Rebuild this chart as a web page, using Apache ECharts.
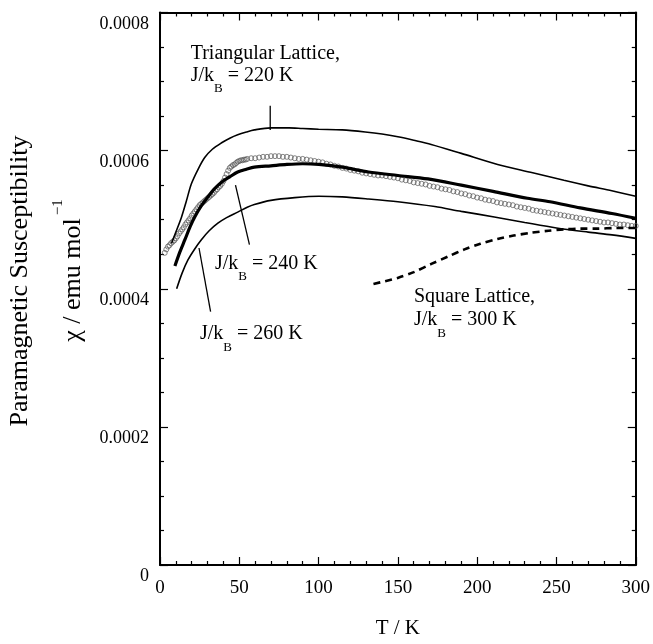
<!DOCTYPE html>
<html><head><meta charset="utf-8">
<script src="https://cdn.jsdelivr.net/npm/echarts/dist/echarts.min.js"></script>
<style>html,body{margin:0;padding:0;background:#fff}#c{width:653px;height:644px}</style>
</head><body><div id="c"></div>
<script>
const FONT = '"Liberation Serif","Times New Roman",serif';

// x ticks / y ticks
const xTicks = [0, 50, 100, 150, 200, 250, 300];
const yTicks = [0, 0.0002, 0.0004, 0.0006, 0.0008];

// Triangular lattice, J/kB = 220 K
const T220 = [7.3, 10, 13.6, 16.5, 19.8, 24, 28.2, 33, 38.6, 44, 49, 54.5, 59.5, 69.9, 81.4, 90, 100, 115, 129.4, 140, 150, 160, 171, 190, 212.9, 235, 254.7, 270, 284.9, 300];
const chi220 = [0.000466, 0.000482, 0.000504, 0.000526, 0.000552, 0.000573, 0.000590, 0.000602, 0.000611, 0.000618, 0.000623, 0.000627, 0.000630, 0.000633, 0.000633, 0.000632, 0.000631, 0.000630, 0.000627, 0.000624, 0.000620, 0.000615, 0.000609, 0.000596, 0.000580, 0.000568, 0.000557, 0.000549, 0.000542, 0.000534];

// Triangular lattice, J/kB = 240 K (thick)
const T240 = [9.4, 12.5, 15.7, 19, 21.9, 26, 30.2, 34, 38.6, 44, 49, 54.5, 59.5, 69.9, 80, 90, 100.2, 115, 131.5, 150, 169, 190, 210, 231.7, 246, 265, 285, 300];
const chi240 = [0.000433, 0.000453, 0.000471, 0.000490, 0.000504, 0.000520, 0.000533, 0.000544, 0.000554, 0.000562, 0.000569, 0.000573, 0.000576, 0.000578, 0.000580, 0.000581, 0.000580, 0.000576, 0.000569, 0.000564, 0.000559, 0.000550, 0.000541, 0.000531, 0.000526, 0.000517, 0.000509, 0.000502];

// Triangular lattice, J/kB = 260 K
const T260 = [10.5, 14, 17.7, 22, 26.1, 31, 36.5, 42, 49, 55, 59.5, 69.9, 85, 100.2, 115, 131.5, 150, 173.3, 190, 210.8, 230, 250, 270, 285, 300];
const chi260 = [0.000400, 0.000423, 0.000442, 0.000458, 0.000471, 0.000484, 0.000495, 0.000503, 0.000511, 0.000518, 0.000522, 0.000528, 0.000532, 0.000534, 0.000533, 0.000530, 0.000526, 0.000519, 0.000512, 0.000504, 0.000496, 0.000488, 0.000482, 0.000478, 0.000473];

// Square lattice, J/kB = 300 K (dashed)
const Tsq = [134.6, 142, 150.3, 160, 171.1, 182, 192, 202, 212.9, 223, 233.8, 245, 254.7, 265, 275.5, 288, 300];
const chisq = [0.000407, 0.000411, 0.000416, 0.000424, 0.000436, 0.000447, 0.000457, 0.000465, 0.000472, 0.000477, 0.000481, 0.000484, 0.000486, 0.000487, 0.000487, 0.000488, 0.000488];

// Experimental data (open circles)
const Texp = [3,4,5,6,7,8,9,10,11,12,13,14,15,16,17,18,19,20,21,22,23,24,25,26,27,28,29,30,31,32,33,34,35,36,37,38,39,40,41,42,43,44,45,46,47,48,49,50,51,52,53,54,55,
 57.5,60,62.5,65,67.5,70,72.5,75,77.5,80,82.5,85,87.5,90,92.5,95,97.5,100,102.5,105,107.5,110,112.5,115,117.5,120,122.5,125,127.5,130,132.5,135,137.5,140,142.5,145,147.5,150,152.5,155,157.5,160,162.5,165,167.5,170,172.5,175,177.5,180,182.5,185,187.5,190,192.5,195,197.5,200,202.5,205,207.5,210,212.5,215,217.5,220,222.5,225,227.5,230,232.5,235,237.5,240,242.5,245,247.5,250,252.5,255,257.5,260,262.5,265,267.5,270,272.5,275,277.5,280,282.5,285,287.5,290,292.5,295,297.5,300];
const chiExp = [0.000452,0.000457,0.000461,0.000463,0.000466,0.000468,0.000470,0.000473,0.000476,0.000480,0.000483,0.000486,0.000489,0.000493,0.000496,0.000499,0.000502,0.000506,0.000509,0.000512,0.000515,0.000518,0.000521,0.000523,0.000525,0.000527,0.000529,0.000531,0.000533,0.000535,0.000537,0.000539,0.000542,0.000544,0.000547,0.000549,0.000552,0.000556,0.000561,0.000566,0.000571,0.000575,0.000577,0.000579,0.000580,0.000582,0.000584,0.000585,0.000586,0.000586,0.000587,0.000587,0.000588,
 0.000589,0.000589,0.000590,0.000591,0.000591,0.000592,0.000592,0.000592,0.000591,0.000591,0.000590,0.000589,0.000588,0.000588,0.000587,0.000586,0.000585,0.000584,0.000583,0.000581,0.000580,0.000578,0.000577,0.000575,0.000574,0.000572,0.000571,0.000570,0.000568,0.000567,0.000566,0.000565,0.000564,0.000564,0.000563,0.000562,0.000561,0.000560,0.000558,0.000557,0.000556,0.000554,0.000553,0.000552,0.000551,0.000549,0.000548,0.000547,0.000545,0.000544,0.000543,0.000541,0.000540,0.000538,0.000537,0.000535,0.000534,0.000532,0.000531,0.000529,0.000528,0.000527,0.000525,0.000524,0.000523,0.000522,0.000521,0.000519,0.000518,0.000517,0.000516,0.000514,0.000513,0.000512,0.000511,0.000510,0.000509,0.000508,0.000507,0.000506,0.000505,0.000504,0.000503,0.000502,0.000501,0.000500,0.000499,0.000498,0.000497,0.000496,0.000496,0.000495,0.000494,0.000493,0.000493,0.000492,0.000491,0.000491];

// Leader lines for annotations
const lead220T = [69.5, 69.5], lead220Chi = [0.000665, 0.000630];
const lead240T = [47.6, 56.4], lead240Chi = [0.000550, 0.000464];
const lead260T = [24.6, 31.9], lead260Chi = [0.000459, 0.000367];

const zip = (a, b) => a.map((v, i) => [v, b[i]]);

const ctx = document.createElement('canvas').getContext('2d');
function tw(t, size) { ctx.font = size + 'px ' + FONT; return ctx.measureText(t).width; }
function txt(x, y, text, size, extra) {
  return Object.assign({ type: 'text', x: x, y: y, z: 100, style: { text: text, font: size + 'px ' + FONT, fill: '#000', align: 'left', verticalAlign: 'middle', textAlign: 'left', textVerticalAlign: 'middle' } }, extra || {});
}
function jLabel(x, base, value) {
  const w1 = tw('J/k', 20), wB = tw('B', 13);
  return [
    txt(x, base - 6.5, 'J/k', 20),
    txt(x + w1, base + 7, 'B', 13),
    txt(x + w1 + wB, base - 6.5, ' = ' + value + ' K', 20)
  ];
}

const chiMain = 'χ / emu mol';
const wChi = tw(chiMain, 26);

const graphics = [].concat(
  [txt(190.7, 60 - 6.5, 'Triangular Lattice,', 20)],
  jLabel(190.7, 82, 220),
  jLabel(215, 270, 240),
  jLabel(200, 340.7, 260),
  [txt(414, 303.3 - 6.5, 'Square Lattice,', 20)],
  jLabel(414, 326.7, 300),
  [{
    type: 'group', x: 20, y: 281, rotation: Math.PI / 2,
    children: [{ type: 'text', x: 0, y: 0, style: { text: 'Paramagnetic Susceptibility', font: '26px ' + FONT, fill: '#000', align: 'center', verticalAlign: 'middle', textAlign: 'center', textVerticalAlign: 'middle' } }]
  }, {
    type: 'group', x: 73.5, y: 280, rotation: Math.PI / 2,
    children: [
      { type: 'text', x: -wChi / 2, y: 0, style: { text: chiMain, font: '26px ' + FONT, fill: '#000', align: 'left', verticalAlign: 'middle', textAlign: 'left', textVerticalAlign: 'middle' } },
      { type: 'text', x: wChi / 2 + 3, y: -15, style: { text: '−1', font: '15px ' + FONT, fill: '#000', align: 'left', verticalAlign: 'middle', textAlign: 'left', textVerticalAlign: 'middle' } }
    ]
  }]
);

const axisLineStyle = { color: '#000', width: 2 };
const tickStyle = { color: '#000', width: 1.2 };
function xAx(pos, showLabel) {
  return {
    type: 'value', position: pos, min: xTicks[0], max: xTicks[xTicks.length - 1], interval: xTicks[1] - xTicks[0],
    axisLine: { show: true, onZero: false, lineStyle: axisLineStyle },
    axisTick: { show: true, inside: true, length: 8, lineStyle: tickStyle },
    minorTick: { show: true, splitNumber: 5, length: 4, lineStyle: tickStyle },
    splitLine: { show: false }, minorSplitLine: { show: false },
    axisLabel: { show: showLabel, fontFamily: FONT, fontSize: 19, color: '#000', margin: 14 },
    name: showLabel ? 'T / K' : '', nameLocation: 'middle', nameGap: 53,
    nameTextStyle: { fontFamily: FONT, fontSize: 21, color: '#000' }
  };
}
function yAx(pos, showLabel) {
  return {
    type: 'value', position: pos, min: yTicks[0], max: yTicks[yTicks.length - 1], interval: yTicks[1] - yTicks[0],
    axisLine: { show: true, onZero: false, lineStyle: axisLineStyle },
    axisTick: { show: true, inside: true, length: 8, lineStyle: tickStyle },
    minorTick: { show: true, splitNumber: 4, length: 4, lineStyle: tickStyle },
    splitLine: { show: false }, minorSplitLine: { show: false },
    axisLabel: { show: showLabel, fontFamily: FONT, fontSize: 18, color: '#000', margin: 11, verticalAlign: 'top', lineHeight: 23,
      formatter: v => (Math.abs(v) < 1e-12 ? '0' : v.toFixed(4)) }
  };
}

function lineSeries(T, chi, width, extra) {
  return Object.assign({
    type: 'line', data: zip(T, chi), showSymbol: false, symbol: 'none', smooth: 0.3, z: 3,
    lineStyle: { color: '#000', width: width }, silent: true
  }, extra || {});
}
function leader(T, chi) {
  return { type: 'line', data: zip(T, chi), showSymbol: false, symbol: 'none', z: 3, silent: true, lineStyle: { color: '#000', width: 1.3 } };
}

const chart = echarts.init(document.getElementById('c'), null, { renderer: 'canvas' });
chart.setOption({
  animation: false,
  backgroundColor: '#fff',
  grid: { left: 160, right: 14, top: 12.5, bottom: 71, containLabel: false },
  xAxis: [xAx('bottom', true), xAx('top', false)],
  yAxis: [yAx('left', true), yAx('right', false)],
  series: [
    { type: 'scatter', data: zip(Texp, chiExp), symbol: 'circle', symbolSize: 5, z: 2, silent: true,
      itemStyle: { color: 'rgba(255,255,255,0)', borderColor: '#555', borderWidth: 0.9 } },
    lineSeries(T220, chi220, 1.6),
    lineSeries(T240, chi240, 3.2),
    lineSeries(T260, chi260, 1.6),
    lineSeries(Tsq, chisq, 2.6, { lineStyle: { color: '#000', width: 2.6, type: [7, 5] } }),
    leader(lead220T, lead220Chi),
    leader(lead240T, lead240Chi),
    leader(lead260T, lead260Chi)
  ],
  graphic: graphics
});
</script>
</body></html>
